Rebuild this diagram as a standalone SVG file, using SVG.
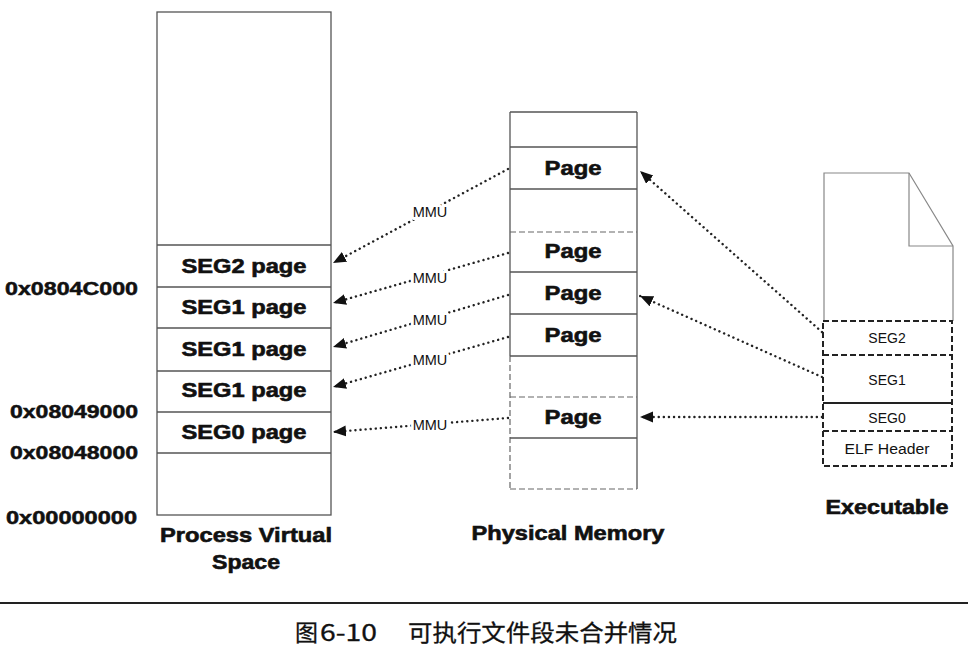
<svg xmlns="http://www.w3.org/2000/svg" width="968" height="651" viewBox="0 0 968 651">
<style>
.box{fill:none;stroke:#555;stroke-width:1.3}
.dl{fill:none;stroke:#666;stroke-width:1.2;stroke-dasharray:6 3}
.b{font-family:"Liberation Sans",Arial,sans-serif;font-weight:bold;font-size:20px;fill:#111;stroke:#111;stroke-width:0.6px}
.addr{font-family:"Liberation Sans",Arial,sans-serif;font-weight:bold;font-size:18.5px;fill:#111;stroke:#111;stroke-width:0.5px;text-anchor:end}
.r{font-family:"Liberation Sans",Arial,sans-serif;font-size:14px;fill:#111;text-anchor:middle}
.mmu{font-family:"Liberation Sans",Arial,sans-serif;font-size:14.5px;fill:#111;text-anchor:middle;stroke:#fff;stroke-width:6px;paint-order:stroke;stroke-linejoin:round}
.c{text-anchor:middle}
.arr{fill:none;stroke:#222;stroke-width:2.4;stroke-dasharray:0.1 5;stroke-linecap:round}
.exe{fill:none;stroke:#222;stroke-width:2;stroke-dasharray:6 3}
.cap{font-family:"Noto Sans CJK SC","Liberation Sans",sans-serif;font-size:23px;fill:#111;stroke:#111;stroke-width:0.3px}
</style>
<defs>
<marker id="ah" markerUnits="userSpaceOnUse" markerWidth="14" markerHeight="12" refX="13" refY="5.5" orient="auto">
<path d="M0,0 L13,5.5 L0,11 z" fill="#111"/>
</marker>
</defs>
<rect width="968" height="651" fill="#fff"/>

<g id="virtual-space">
<rect class="box" x="157" y="12" width="174" height="503"/>
<line class="box" x1="157" y1="245" x2="331" y2="245"/>
<line class="box" x1="157" y1="287" x2="331" y2="287"/>
<line class="box" x1="157" y1="328" x2="331" y2="328"/>
<line class="box" x1="157" y1="371" x2="331" y2="371"/>
<line class="box" x1="157" y1="412" x2="331" y2="412"/>
<line class="box" x1="157" y1="453" x2="331" y2="453"/>
<text class="b c" x="244" y="273" textLength="125" lengthAdjust="spacingAndGlyphs">SEG2 page</text>
<text class="b c" x="244" y="314" textLength="125" lengthAdjust="spacingAndGlyphs">SEG1 page</text>
<text class="b c" x="244" y="356" textLength="125" lengthAdjust="spacingAndGlyphs">SEG1 page</text>
<text class="b c" x="244" y="397" textLength="125" lengthAdjust="spacingAndGlyphs">SEG1 page</text>
<text class="b c" x="244" y="439" textLength="125" lengthAdjust="spacingAndGlyphs">SEG0 page</text>
<text class="b c" x="246" y="542" textLength="172" lengthAdjust="spacingAndGlyphs">Process Virtual</text>
<text class="b c" x="246" y="569" textLength="68" lengthAdjust="spacingAndGlyphs">Space</text>
</g>

<g id="addresses">
<text class="addr" x="138" y="295" textLength="133" lengthAdjust="spacingAndGlyphs">0x0804C000</text>
<text class="addr" x="138" y="418" textLength="128" lengthAdjust="spacingAndGlyphs">0x08049000</text>
<text class="addr" x="138" y="459" textLength="128" lengthAdjust="spacingAndGlyphs">0x08048000</text>
<text class="addr" x="137" y="524" textLength="131" lengthAdjust="spacingAndGlyphs">0x00000000</text>
</g>

<g id="physical-memory">
<line class="box" x1="510" y1="112" x2="637" y2="112"/>
<line class="box" x1="510" y1="112" x2="510" y2="356"/>
<line class="dl" x1="510" y1="356" x2="510" y2="489"/>
<line class="box" x1="637" y1="112" x2="637" y2="489"/>
<line class="box" x1="510" y1="147" x2="637" y2="147"/>
<line class="box" x1="510" y1="189" x2="637" y2="189"/>
<line class="dl" x1="510" y1="232" x2="637" y2="232"/>
<line class="box" x1="510" y1="272" x2="637" y2="272"/>
<line class="box" x1="510" y1="314" x2="637" y2="314"/>
<line class="box" x1="510" y1="356" x2="637" y2="356"/>
<line class="dl" x1="510" y1="397" x2="637" y2="397"/>
<line class="box" x1="510" y1="438" x2="637" y2="438"/>
<line class="dl" x1="510" y1="489" x2="637" y2="489"/>
<text class="b c" x="573" y="175" textLength="57" lengthAdjust="spacingAndGlyphs">Page</text>
<text class="b c" x="573" y="258" textLength="57" lengthAdjust="spacingAndGlyphs">Page</text>
<text class="b c" x="573" y="300" textLength="57" lengthAdjust="spacingAndGlyphs">Page</text>
<text class="b c" x="573" y="342" textLength="57" lengthAdjust="spacingAndGlyphs">Page</text>
<text class="b c" x="573" y="424" textLength="57" lengthAdjust="spacingAndGlyphs">Page</text>
<text class="b c" x="568" y="540" textLength="193" lengthAdjust="spacingAndGlyphs">Physical Memory</text>
</g>

<g id="executable">
<path d="M824,321 L824,173 L909,173 L953,246 L953,321" fill="none" stroke="#888" stroke-width="1.2"/>
<path d="M909,173 L909,246 L953,246" fill="none" stroke="#888" stroke-width="1.2"/>
<rect class="exe" x="823" y="321" width="129" height="145"/>
<line class="exe" x1="823" y1="355" x2="952" y2="355"/>
<line x1="823" y1="403" x2="952" y2="403" stroke="#222" stroke-width="2"/>
<line class="exe" x1="823" y1="431" x2="952" y2="431"/>
<text class="r" x="887" y="343">SEG2</text>
<text class="r" x="887" y="385">SEG1</text>
<text class="r" x="887" y="423">SEG0</text>
<text class="r" x="887" y="454" textLength="85" lengthAdjust="spacingAndGlyphs">ELF Header</text>
<text class="b c" x="887" y="514" textLength="123" lengthAdjust="spacingAndGlyphs">Executable</text>
</g>

<g id="connectors">
<line class="arr" x1="508" y1="169" x2="333" y2="263" marker-end="url(#ah)"/>
<line class="arr" x1="508" y1="253" x2="333" y2="303" marker-end="url(#ah)"/>
<line class="arr" x1="508" y1="295" x2="333" y2="347" marker-end="url(#ah)"/>
<line class="arr" x1="508" y1="337" x2="333" y2="387" marker-end="url(#ah)"/>
<line class="arr" x1="508" y1="418" x2="333" y2="432" marker-end="url(#ah)"/>
<line class="arr" x1="822" y1="332" x2="640" y2="171" marker-end="url(#ah)"/>
<line class="arr" x1="822" y1="377" x2="640" y2="296" marker-end="url(#ah)"/>
<line class="arr" x1="822" y1="417" x2="640" y2="417" marker-end="url(#ah)"/>
<text class="mmu" x="430" y="217">MMU</text>
<text class="mmu" x="430" y="283">MMU</text>
<text class="mmu" x="430" y="325">MMU</text>
<text class="mmu" x="430" y="365">MMU</text>
<text class="mmu" x="430" y="430">MMU</text>
</g>

<g id="caption">
<line x1="0" y1="603" x2="968" y2="603" stroke="#222" stroke-width="2"/>
<text class="cap" x="295" y="641">图</text>
<text class="cap" x="320" y="641" font-family="'Liberation Sans',sans-serif" textLength="57" lengthAdjust="spacingAndGlyphs">6-10</text>
<text class="cap" x="408" y="641" textLength="269" lengthAdjust="spacingAndGlyphs">可执行文件段未合并情况</text>
</g>
</svg>
